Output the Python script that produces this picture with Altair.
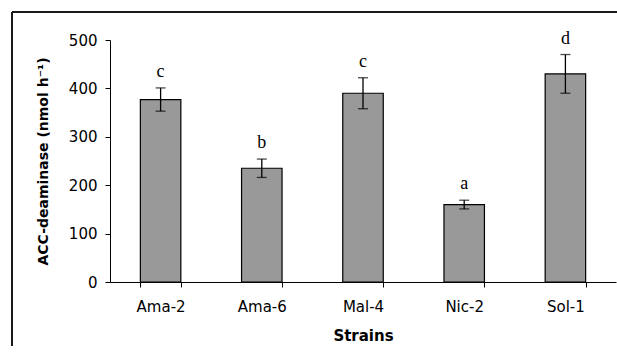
import altair as alt
import pandas as pd

strains = ["Ama-2", "Ama-6", "Mal-4", "Nic-2", "Sol-1"]
means = [377, 235, 390, 160, 430]
errs = [24, 19, 32, 9, 40]
letters = ["c", "b", "c", "a", "d"]

df = pd.DataFrame({"strain": strains, "mean": means, "err": errs, "letter": letters})

x = alt.X("strain:N", sort=strains, title="Strains",
          scale=alt.Scale(paddingInner=0.6, paddingOuter=0.3),
          axis=alt.Axis(labelAngle=0, tickBand="extent", domainColor="black", tickColor="black",
                        tickSize=5, labelFont="DejaVu Sans", labelFontSize=15, labelColor="black",
                        labelPadding=12, titleFont="DejaVu Sans", titleFontSize=15,
                        titleFontWeight="bold", titleColor="black", titlePadding=14))
y = alt.Y("mean:Q", title="ACC-deaminase (nmol h⁻¹)",
          scale=alt.Scale(domain=[0, 500], nice=False),
          axis=alt.Axis(values=[0, 100, 200, 300, 400, 500], grid=False, domainColor="black",
                        tickColor="black", tickSize=5, labelFont="DejaVu Sans", labelFontSize=15,
                        labelColor="black", labelPadding=8, titleFont="DejaVu Sans",
                        titleFontSize=14, titleFontWeight="bold", titleColor="black",
                        titlePadding=18))

base = alt.Chart(df).transform_calculate(lo="datum.mean - datum.err", hi="datum.mean + datum.err")

bars = base.mark_bar(color="#999999", stroke="black", strokeWidth=1.2).encode(x=x, y=y)
rule = base.mark_rule(color="black", strokeWidth=1.3).encode(x=alt.X("strain:N", sort=strains), y="lo:Q", y2="hi:Q")
cap_hi = base.mark_tick(color="black", size=10, thickness=1.3).encode(x=alt.X("strain:N", sort=strains), y="hi:Q")
cap_lo = base.mark_tick(color="black", size=10, thickness=1.3).encode(x=alt.X("strain:N", sort=strains), y="lo:Q")
text = base.mark_text(font="Liberation Serif", fontSize=18, baseline="alphabetic", dy=-11, color="black").encode(
    x=alt.X("strain:N", sort=strains), y="hi:Q", text="letter:N")

frame_top = alt.Chart(df).mark_rule(stroke="#1a1a1a", strokeWidth=1.5).encode(
    x=alt.value(-98), x2=alt.value(507), y=alt.value(-28))
frame_left = alt.Chart(df).mark_rule(stroke="#1a1a1a", strokeWidth=1.5).encode(
    x=alt.value(-98), y=alt.value(-28), y2=alt.value(320))

chart = alt.layer(frame_top, frame_left, bars, rule, cap_hi, cap_lo, text).properties(
    width=506, height=242,
    autosize=alt.AutoSizeParams(type="none"),
    padding={"left": 110, "top": 40, "right": 1, "bottom": 64},
).configure_view(stroke=None)

chart.save("out.html", embed_options={"renderer": "svg", "actions": False})
